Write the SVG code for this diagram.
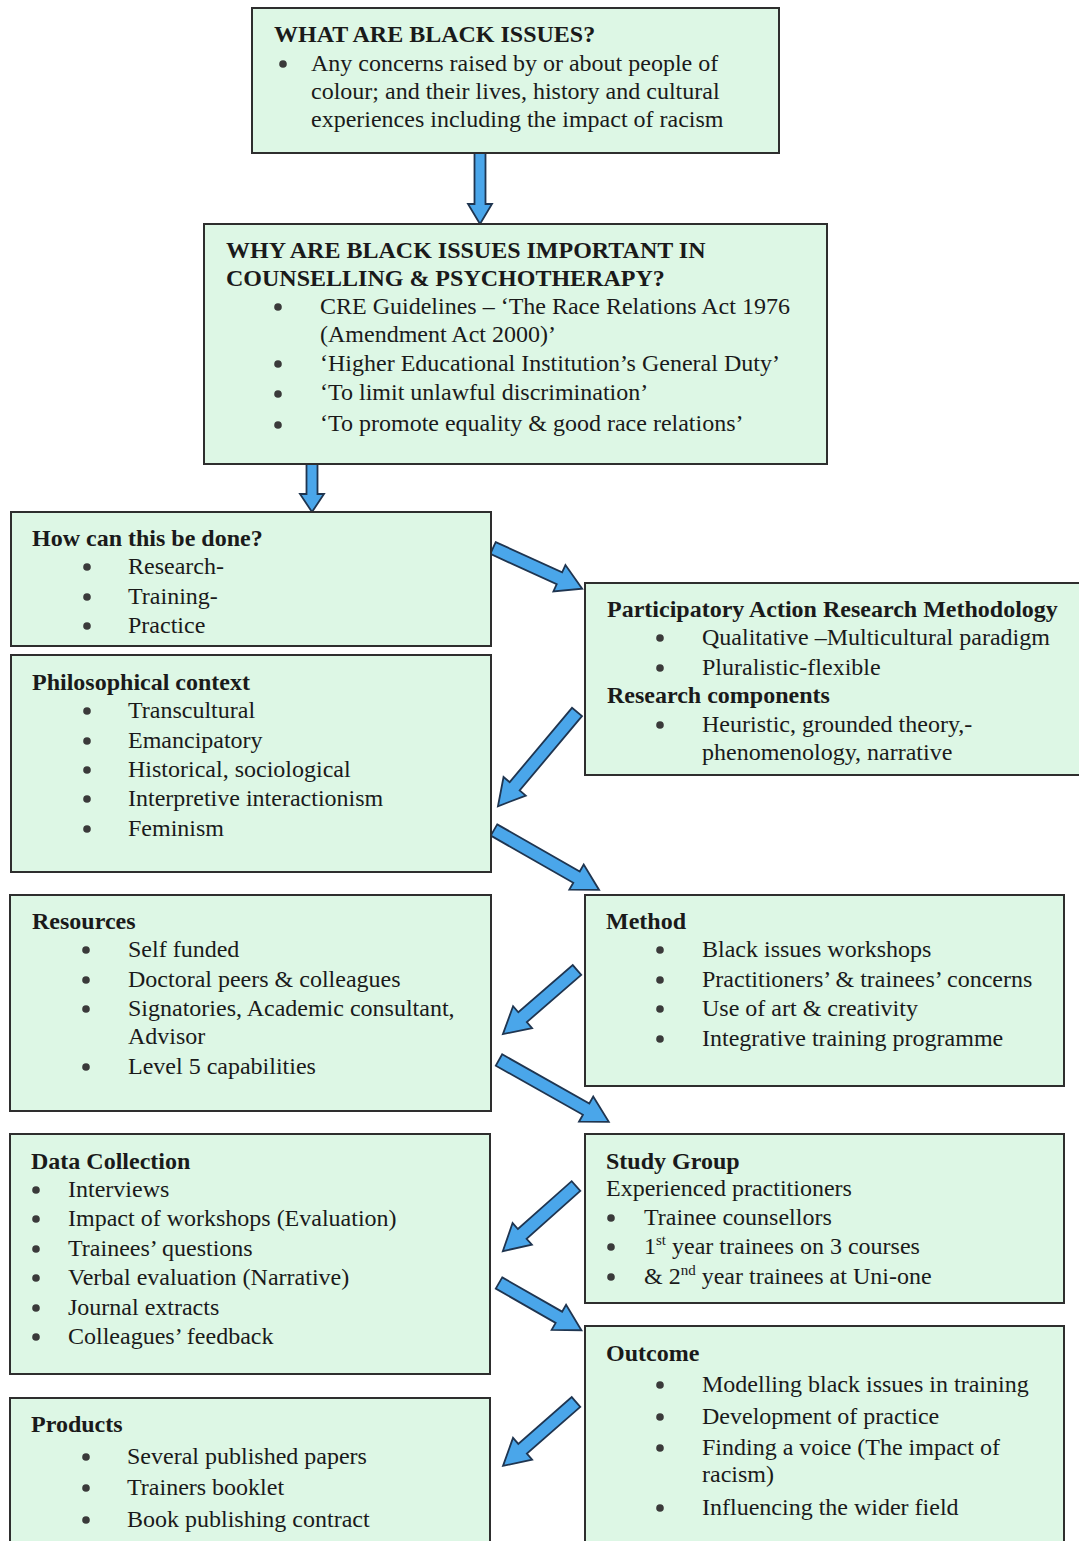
<svg xmlns="http://www.w3.org/2000/svg" width="1079" height="1541" viewBox="0 0 1079 1541">
  <defs>
    <style>
      .box { fill: #ddf7e5; stroke: #2e2e2e; stroke-width: 2; }
      .t { font-family: "Liberation Serif", "Times New Roman", serif; font-size: 24px; fill: #1a1a1a; }
      .h { font-family: "Liberation Serif", "Times New Roman", serif; font-size: 24px; font-weight: bold; fill: #1a1a1a; }
      .dot { fill: #3a3a3a; }
      .arrow { fill: #4aa6ea; stroke: #1f3550; stroke-width: 1.8; stroke-linejoin: miter; }
      .sup { font-size: 15px; }
    </style>
    <circle id="b" r="3.8" class="dot"/>
  </defs>

  <!-- connectors: block arrows, each drawn along +x then rotated into place -->
  <g id="connectors">
    <polygon class="arrow" transform="translate(480,153) rotate(90)" points="0,-5.5 51,-5.5 51,-12 71,0 51,12 51,5.5 0,5.5"/>
    <polygon class="arrow" transform="translate(312,464) rotate(90)" points="0,-5.5 30,-5.5 30,-12 48,0 30,12 30,5.5 0,5.5"/>
    <polygon class="arrow" transform="translate(493,548) rotate(24.5)" points="0,-6.5 73,-6.5 73,-14.5 98,0 73,14.5 73,6.5 0,6.5"/>
    <polygon class="arrow" transform="translate(577,712) rotate(130)" points="0,-6.5 97,-6.5 97,-14.5 123,0 97,14.5 97,6.5 0,6.5"/>
    <polygon class="arrow" transform="translate(494,830) rotate(29.7)" points="0,-6.5 95,-6.5 95,-14.5 121,0 95,14.5 95,6.5 0,6.5"/>
    <polygon class="arrow" transform="translate(577,970) rotate(139.1)" points="0,-6.5 72,-6.5 72,-14.5 98,0 72,14.5 72,6.5 0,6.5"/>
    <polygon class="arrow" transform="translate(499,1060) rotate(29.4)" points="0,-6.5 100,-6.5 100,-14.5 126,0 100,14.5 100,6.5 0,6.5"/>
    <polygon class="arrow" transform="translate(576,1186) rotate(138.3)" points="0,-6.5 72,-6.5 72,-14.5 98,0 72,14.5 72,6.5 0,6.5"/>
    <polygon class="arrow" transform="translate(499,1283) rotate(29.8)" points="0,-6.5 69,-6.5 69,-14.5 95,0 69,14.5 69,6.5 0,6.5"/>
    <polygon class="arrow" transform="translate(576,1402) rotate(138.8)" points="0,-6.5 71,-6.5 71,-14.5 97,0 71,14.5 71,6.5 0,6.5"/>
  </g>

  <g id="what-are-black-issues">
    <rect class="box" x="252" y="8" width="527" height="145"/>
    <text class="h" x="274" y="42">WHAT ARE BLACK ISSUES?</text>
    <use href="#b" x="283" y="64"/>
    <text class="t" x="311" y="71">Any concerns raised by or about people of</text>
    <text class="t" x="311" y="99">colour; and their lives, history and cultural</text>
    <text class="t" x="311" y="127">experiences including the impact of racism</text>
  </g>

  <g id="why-important">
    <rect class="box" x="204" y="224" width="623" height="240"/>
    <text class="h" x="226" y="258">WHY ARE BLACK ISSUES IMPORTANT IN</text>
    <text class="h" x="226" y="286">COUNSELLING &amp; PSYCHOTHERAPY?</text>
    <use href="#b" x="278" y="307"/>
    <text class="t" x="320" y="314">CRE Guidelines – ‘The Race Relations Act 1976</text>
    <text class="t" x="320" y="342">(Amendment Act 2000)’</text>
    <use href="#b" x="278" y="364"/>
    <text class="t" x="320" y="371">‘Higher Educational Institution’s General Duty’</text>
    <use href="#b" x="278" y="394"/>
    <text class="t" x="320" y="400">‘To limit unlawful discrimination’</text>
    <use href="#b" x="278" y="425"/>
    <text class="t" x="320" y="431">‘To promote equality &amp; good race relations’</text>
  </g>

  <g id="how-done">
    <rect class="box" x="11" y="512" width="480" height="134"/>
    <text class="h" x="32" y="546">How can this be done?</text>
    <use href="#b" x="87" y="567"/>
    <text class="t" x="128" y="574">Research-</text>
    <use href="#b" x="87" y="597"/>
    <text class="t" x="128" y="604">Training-</text>
    <use href="#b" x="87" y="626"/>
    <text class="t" x="128" y="633">Practice</text>
  </g>

  <g id="par-methodology">
    <rect class="box" x="585" y="583" width="500" height="192"/>
    <text class="h" x="607" y="617">Participatory Action Research Methodology</text>
    <use href="#b" x="660" y="638"/>
    <text class="t" x="702" y="645">Qualitative –Multicultural paradigm</text>
    <use href="#b" x="660" y="668"/>
    <text class="t" x="702" y="675">Pluralistic-flexible</text>
    <text class="h" x="607" y="703">Research components</text>
    <use href="#b" x="660" y="725"/>
    <text class="t" x="702" y="732">Heuristic, grounded theory,-</text>
    <text class="t" x="702" y="760">phenomenology, narrative</text>
  </g>

  <g id="philosophical-context">
    <rect class="box" x="11" y="655" width="480" height="217"/>
    <text class="h" x="32" y="690">Philosophical context</text>
    <use href="#b" x="87" y="711"/>
    <text class="t" x="128" y="718">Transcultural</text>
    <use href="#b" x="87" y="741"/>
    <text class="t" x="128" y="748">Emancipatory</text>
    <use href="#b" x="87" y="770"/>
    <text class="t" x="128" y="777">Historical, sociological</text>
    <use href="#b" x="87" y="799"/>
    <text class="t" x="128" y="806">Interpretive interactionism</text>
    <use href="#b" x="87" y="829"/>
    <text class="t" x="128" y="836">Feminism</text>
  </g>

  <g id="resources">
    <rect class="box" x="10" y="895" width="481" height="216"/>
    <text class="h" x="32" y="929">Resources</text>
    <use href="#b" x="86" y="950"/>
    <text class="t" x="128" y="957">Self funded</text>
    <use href="#b" x="86" y="980"/>
    <text class="t" x="128" y="987">Doctoral peers &amp; colleagues</text>
    <use href="#b" x="86" y="1009"/>
    <text class="t" x="128" y="1016">Signatories, Academic consultant,</text>
    <text class="t" x="128" y="1044">Advisor</text>
    <use href="#b" x="86" y="1067"/>
    <text class="t" x="128" y="1074">Level 5 capabilities</text>
  </g>

  <g id="method">
    <rect class="box" x="585" y="895" width="479" height="191"/>
    <text class="h" x="606" y="929">Method</text>
    <use href="#b" x="660" y="950"/>
    <text class="t" x="702" y="957">Black issues workshops</text>
    <use href="#b" x="660" y="980"/>
    <text class="t" x="702" y="987">Practitioners’ &amp; trainees’ concerns</text>
    <use href="#b" x="660" y="1009"/>
    <text class="t" x="702" y="1016">Use of art &amp; creativity</text>
    <use href="#b" x="660" y="1039"/>
    <text class="t" x="702" y="1046">Integrative training programme</text>
  </g>

  <g id="data-collection">
    <rect class="box" x="10" y="1134" width="480" height="240"/>
    <text class="h" x="31" y="1169">Data Collection</text>
    <use href="#b" x="36" y="1190"/>
    <text class="t" x="68" y="1197">Interviews</text>
    <use href="#b" x="36" y="1219"/>
    <text class="t" x="68" y="1226">Impact of workshops (Evaluation)</text>
    <use href="#b" x="36" y="1249"/>
    <text class="t" x="68" y="1256">Trainees’ questions</text>
    <use href="#b" x="36" y="1278"/>
    <text class="t" x="68" y="1285">Verbal evaluation (Narrative)</text>
    <use href="#b" x="36" y="1308"/>
    <text class="t" x="68" y="1315">Journal extracts</text>
    <use href="#b" x="36" y="1337"/>
    <text class="t" x="68" y="1344">Colleagues’ feedback</text>
  </g>

  <g id="study-group">
    <rect class="box" x="585" y="1134" width="479" height="169"/>
    <text class="h" x="606" y="1169">Study Group</text>
    <text class="t" x="606" y="1196">Experienced practitioners</text>
    <use href="#b" x="611" y="1218"/>
    <text class="t" x="644" y="1225">Trainee counsellors</text>
    <use href="#b" x="611" y="1247"/>
    <text class="t" x="644" y="1254">1<tspan class="sup" dy="-9">st</tspan><tspan dy="9"> year trainees on 3 courses</tspan></text>
    <use href="#b" x="611" y="1277"/>
    <text class="t" x="644" y="1284">&amp; 2<tspan class="sup" dy="-9">nd</tspan><tspan dy="9"> year trainees at Uni-one</tspan></text>
  </g>

  <g id="products">
    <rect class="box" x="10" y="1398" width="480" height="150"/>
    <text class="h" x="31" y="1432">Products</text>
    <use href="#b" x="86" y="1457"/>
    <text class="t" x="127" y="1464">Several published papers</text>
    <use href="#b" x="86" y="1488"/>
    <text class="t" x="127" y="1495">Trainers booklet</text>
    <use href="#b" x="86" y="1520"/>
    <text class="t" x="127" y="1527">Book publishing contract</text>
  </g>

  <g id="outcome">
    <rect class="box" x="585" y="1326" width="479" height="222"/>
    <text class="h" x="606" y="1361">Outcome</text>
    <use href="#b" x="660" y="1385"/>
    <text class="t" x="702" y="1392">Modelling black issues in training</text>
    <use href="#b" x="660" y="1417"/>
    <text class="t" x="702" y="1424">Development of practice</text>
    <use href="#b" x="660" y="1448"/>
    <text class="t" x="702" y="1455">Finding a voice (The impact of</text>
    <text class="t" x="702" y="1482">racism)</text>
    <use href="#b" x="660" y="1508"/>
    <text class="t" x="702" y="1515">Influencing the wider field</text>
  </g>
</svg>
